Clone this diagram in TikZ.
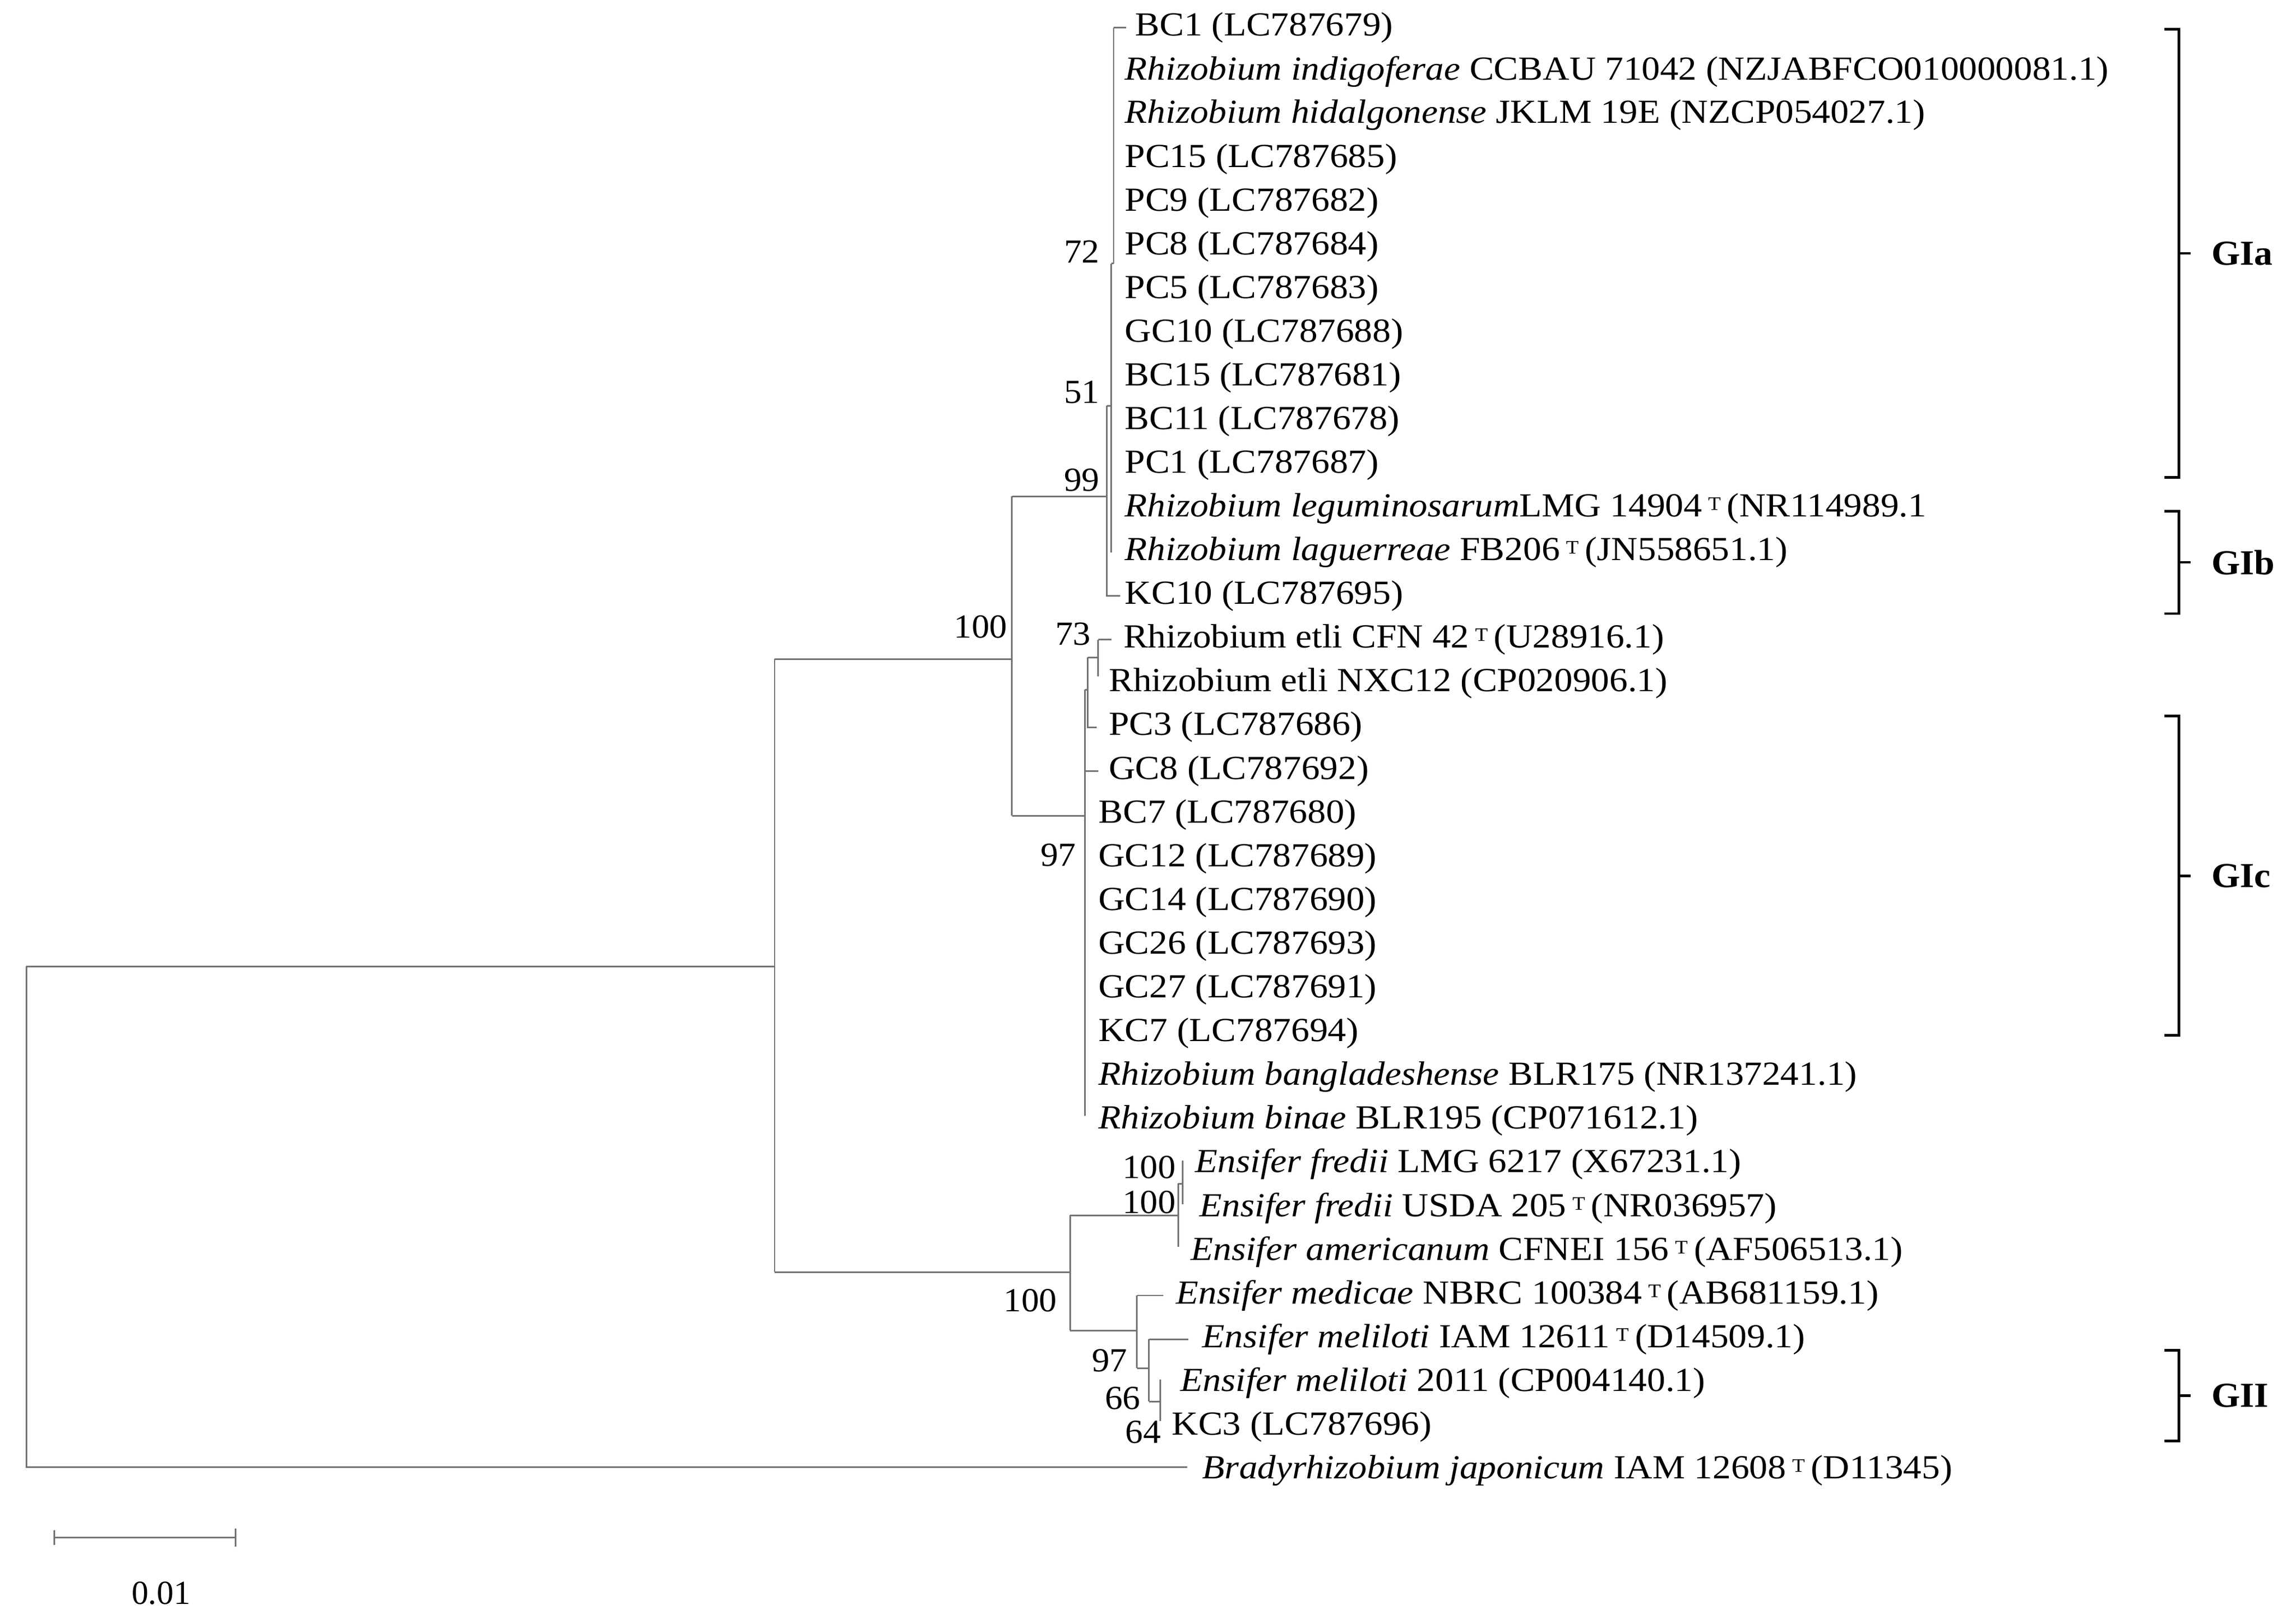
\documentclass[tikz,border=0pt]{standalone}
\usepackage{fontspec}
\setmainfont{Liberation Serif}
\begin{document}
\begin{tikzpicture}[x=1pt,y=-1pt,
  br/.style={draw=black!55,line width=1.1pt},
  leaf/.style={anchor=west,inner sep=0pt,xscale=1.09,font=\fontsize{23}{24}\selectfont},
  bs/.style={anchor=east,inner sep=0pt,xscale=1.05,font=\fontsize{23}{24}\selectfont},
  grp/.style={anchor=west,inner sep=0pt,xscale=1.05,font=\fontsize{24}{24}\selectfont\bfseries},
  brk/.style={draw=black,line width=1.8pt}]
\newcommand{\supT}{\,{\fontsize{13}{13}\selectfont\raisebox{0.75ex}{T}}\,}
\useasboundingbox (0,0) rectangle (1568,1108);
% leaves
\node[leaf] (L0) at (775,19) {BC1 (LC787679)};
\node[leaf] (L1) at (768,48.85) {\textit{Rhizobium indigoferae} CCBAU 71042 (NZJABFCO010000081.1)};
\node[leaf] (L2) at (768,78.7) {\textit{Rhizobium hidalgonense} JKLM 19E (NZCP054027.1)};
\node[leaf] (L3) at (768,108.55) {PC15 (LC787685)};
\node[leaf] (L4) at (768,138.4) {PC9 (LC787682)};
\node[leaf] (L5) at (768,168.25) {PC8 (LC787684)};
\node[leaf] (L6) at (768,198.1) {PC5 (LC787683)};
\node[leaf] (L7) at (768,227.95) {GC10 (LC787688)};
\node[leaf] (L8) at (768,257.8) {BC15 (LC787681)};
\node[leaf] (L9) at (768,287.65) {BC11 (LC787678)};
\node[leaf] (L10) at (768,317.5) {PC1 (LC787687)};
\node[leaf] (L11) at (768,347.35) {\textit{Rhizobium leguminosarum}LMG 14904\supT(NR114989.1};
\node[leaf] (L12) at (768,377.2) {\textit{Rhizobium laguerreae} FB206\supT(JN558651.1)};
\node[leaf] (L13) at (768,407.05) {KC10 (LC787695)};
\node[leaf] (L14) at (767,436.9) {Rhizobium etli CFN 42\supT(U28916.1)};
\node[leaf] (L15) at (757,466.75) {Rhizobium etli NXC12 (CP020906.1)};
\node[leaf] (L16) at (757,496.6) {PC3 (LC787686)};
\node[leaf] (L17) at (757,526.45) {GC8 (LC787692)};
\node[leaf] (L18) at (750,556.3) {BC7 (LC787680)};
\node[leaf] (L19) at (750,586.15) {GC12 (LC787689)};
\node[leaf] (L20) at (750,616) {GC14 (LC787690)};
\node[leaf] (L21) at (750,645.85) {GC26 (LC787693)};
\node[leaf] (L22) at (750,675.7) {GC27 (LC787691)};
\node[leaf] (L23) at (750,705.55) {KC7 (LC787694)};
\node[leaf] (L24) at (750,735.4) {\textit{Rhizobium bangladeshense} BLR175 (NR137241.1)};
\node[leaf] (L25) at (750,765.25) {\textit{Rhizobium binae} BLR195 (CP071612.1)};
\node[leaf] (L26) at (816,795.1) {\textit{Ensifer fredii} LMG 6217 (X67231.1)};
\node[leaf] (L27) at (819,824.95) {\textit{Ensifer fredii} USDA 205\supT(NR036957)};
\node[leaf] (L28) at (813,854.8) {\textit{Ensifer americanum} CFNEI 156\supT(AF506513.1)};
\node[leaf] (L29) at (803,884.65) {\textit{Ensifer medicae} NBRC 100384\supT(AB681159.1)};
\node[leaf] (L30) at (821,914.5) {\textit{Ensifer meliloti} IAM 12611\supT(D14509.1)};
\node[leaf] (L31) at (806,944.35) {\textit{Ensifer meliloti} 2011 (CP004140.1)};
\node[leaf] (L32) at (800,974.2) {KC3 (LC787696)};
\node[leaf] (L33) at (821,1004.05) {\textit{Bradyrhizobium japonicum} IAM 12608\supT(D11345)};
% tree
\draw[br] (18,660) -- (18,1002) -- (811,1002);
\draw[br] (18,660) -- (529,660);
\draw[br] (529,450) -- (529,868.7);
\draw[br] (529,450) -- (691,450);
\draw[br] (691,339) -- (691,557);
\draw[br] (691,339) -- (756,339);
\draw[br] (756,277) -- (756,407.05) -- (765,407.05);
\draw[br] (756,277) -- (759,277);
\draw[br] (759,180) -- (759,377.2);
\draw[br] (759,180) -- (760.5,180);
\draw[br] (760.5,19) -- (760.5,180);
\draw[br] (760.5,19) -- (769,19);
\draw[br] (691,557) -- (741,557);
\draw[br] (741,471) -- (741,762);
\draw[br] (741,471) -- (742.8,471);
\draw[br] (742.8,449) -- (742.8,496.6) -- (749,496.6);
\draw[br] (742.8,449) -- (750,449);
\draw[br] (750,436.9) -- (750,462);
\draw[br] (750,436.9) -- (759,436.9);
\draw[br] (741,526.45) -- (750,526.45);
% Ensifer
\draw[br] (529,868.7) -- (730.7,868.7);
\draw[br] (730.7,830) -- (730.7,908.6);
\draw[br] (730.7,830) -- (804.6,830);
\draw[br] (804.6,808.3) -- (804.6,851.6);
\draw[br] (804.6,808.3) -- (807.7,808.3);
\draw[br] (807.7,792.5) -- (807.7,822.4);
\draw[br] (730.7,908.6) -- (776.4,908.6);
\draw[br] (776.4,884.65) -- (776.4,934.3);
\draw[br] (776.4,884.65) -- (794.6,884.65);
\draw[br] (776.4,934.3) -- (784.7,934.3);
\draw[br] (784.7,914.5) -- (784.7,957);
\draw[br] (784.7,914.5) -- (811.4,914.5);
\draw[br] (784.7,957) -- (792.5,957);
\draw[br] (792.5,942) -- (792.5,970.5);
% bootstrap
\node[bs] (b72) at (751,172) {72};
\node[bs] (b51) at (751,268) {51};
\node[bs] (b99) at (751,328) {99};
\node[bs] (b100a) at (688,428) {100};
\node[bs] (b73) at (745,433) {73};
\node[bs] (b97a) at (735,584) {97};
\node[bs] (b100b) at (803,797) {100};
\node[bs] (b100c) at (803,821) {100};
\node[bs] (b100d) at (722,888) {100};
\node[bs] (b97b) at (770,929) {97};
\node[bs] (b66) at (779,955) {66};
\node[bs] (b64) at (793,978) {64};
% groups
\foreach \t/\b/\lab/\nm in {20/326/GIa/ga,349/419/GIb/gb,489/707/GIc/gc,922/984/GII/gd}{
  \draw[brk] (1478,\t) -- (1488,\t) -- (1488,\b) -- (1478,\b);
  \draw[brk] (1488,{(\t+\b)/2}) -- (1496,{(\t+\b)/2});
  \node[grp] (\nm) at (1510,{(\t+\b)/2}) {\lab};
}
% scale bar
\draw[br] (37,1050) -- (161,1050);
\draw[br] (37,1045) -- (37,1055);
\draw[br] (161,1044) -- (161,1056);
\node[font=\fontsize{23}{24}\selectfont,inner sep=0pt] (sc) at (110,1088) {0.01};
\end{tikzpicture}
\end{document}
